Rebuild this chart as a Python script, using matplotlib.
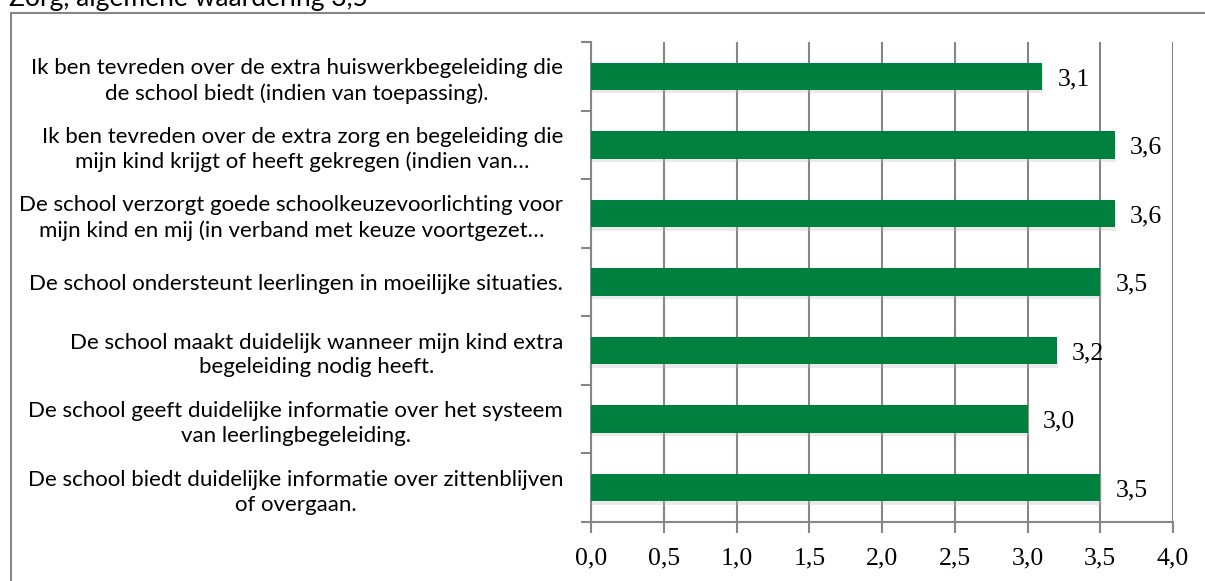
import matplotlib.pyplot as plt
import matplotlib.patheffects as pe
from matplotlib.patches import Rectangle
import numpy as np

# data (top to bottom as in the chart)
labels = [
    "Ik ben tevreden over de extra huiswerkbegeleiding die\nde school biedt (indien van toepassing).",
    "Ik ben tevreden over de extra zorg en begeleiding die\nmijn kind krijgt of heeft gekregen (indien van\u2026",
    "De school verzorgt goede schoolkeuzevoorlichting voor\nmijn kind en mij (in verband met keuze voortgezet\u2026",
    "De school ondersteunt leerlingen in moeilijke situaties.",
    "De school maakt duidelijk wanneer mijn kind extra\nbegeleiding nodig heeft.",
    "De school geeft duidelijke informatie over het systeem\nvan leerlingbegeleiding.",
    "De school biedt duidelijke informatie over zittenblijven\nof overgaan.",
]
values = [3.1, 3.6, 3.6, 3.5, 3.2, 3.0, 3.5]
xticks = [0.0, 0.5, 1.0, 1.5, 2.0, 2.5, 3.0, 3.5, 4.0]
title = "Zorg, algemene waardering 3,5"

green = '#00803f'
grey = '#868686'

W, H = 1205, 581
fig = plt.figure(figsize=(W / 100, H / 100), dpi=100)
ax = fig.add_axes([591 / W, 1 - 522 / H, (1173 - 591) / W, (522 - 42) / H])

# outer chart frame (runs off right and bottom)
fig.patches.append(Rectangle((11 / W, -0.2), 1.2, 1.2 - 13 / H, transform=fig.transFigure,
                             fill=False, edgecolor=grey, linewidth=1.5))
fig.text(9 / W, 1 - 6 / H, title, fontsize=19, family='Lato', va='baseline', ha='left')

n = len(values)
ypos = np.arange(n)[::-1]
bars = ax.barh(ypos, values, height=0.4, color=green, zorder=3)
for b in bars:
    b.set_path_effects([pe.SimplePatchShadow(offset=(1, -2.5), shadow_rgbFace='#bbbbbb', alpha=0.3),
                        pe.Normal()])

for y, v in zip(ypos, values):
    ax.annotate(f"{v:.1f}".replace('.', ','), (v, y), xytext=(11, -2), textcoords='offset points',
                ha='left', va='center', fontsize=18.5, family='Liberation Serif', zorder=4)

ax.set_xlim(0, 4.0)
ax.set_ylim(-0.5, n - 0.5)
ax.set_xticks(xticks)
ax.set_xticklabels([f"{t:.1f}".replace('.', ',') for t in xticks], fontsize=18.5, family='Liberation Serif')
ax.tick_params(axis='x', length=8, width=1.5, color=grey, pad=10)

ax.set_yticks(ypos)
ax.set_yticklabels(labels, fontsize=16, family='Lato', multialignment='center',
                   linespacing=1.3)
ax.set_yticks(np.arange(-0.5, n, 1.0), minor=True)
ax.tick_params(axis='y', which='major', length=0, pad=20)
ax.tick_params(axis='y', which='minor', length=7, width=1.5, color=grey)

ax.xaxis.grid(True, color=grey, linewidth=1.5, zorder=0)
ax.set_axisbelow(True)
for s in ['top', 'right']:
    ax.spines[s].set_visible(False)
for s in ['left', 'bottom']:
    ax.spines[s].set_color(grey)
    ax.spines[s].set_linewidth(1.5)

fig.savefig('out.png', dpi=100)
